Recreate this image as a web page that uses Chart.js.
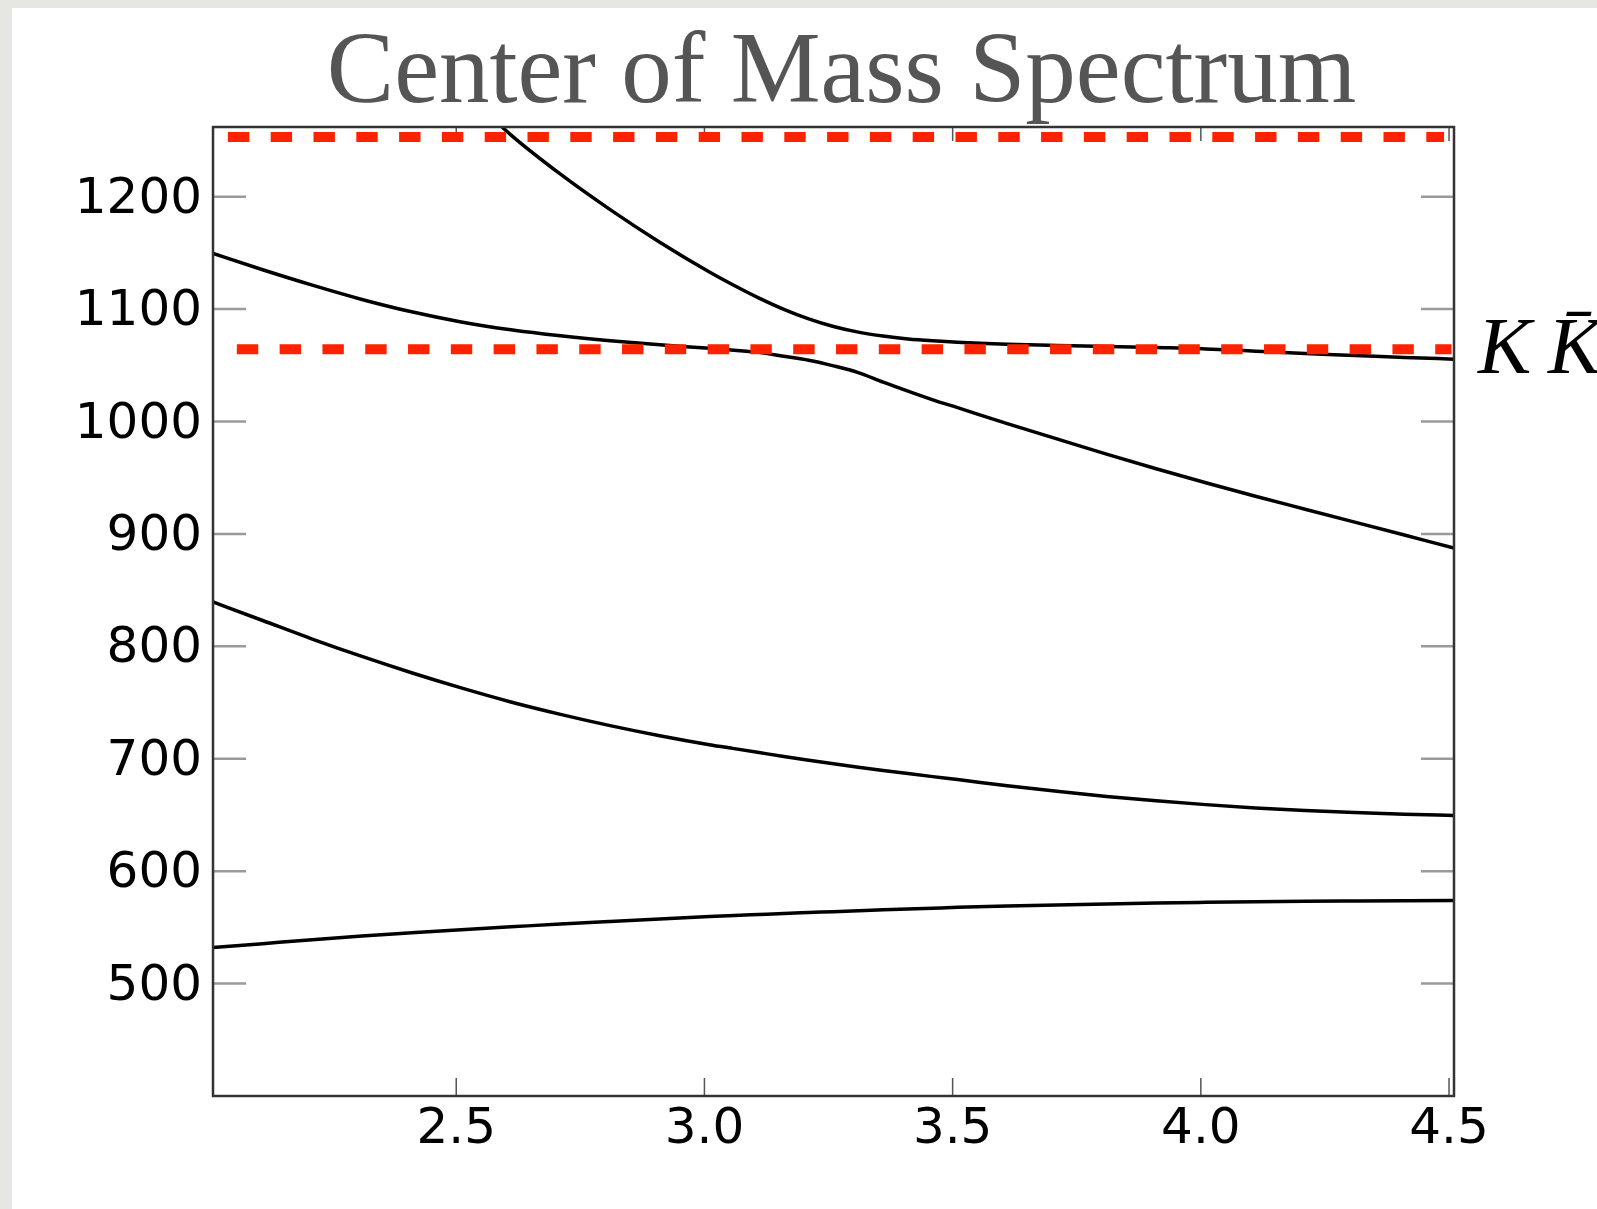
<!DOCTYPE html>
<html>
<head>
<meta charset="utf-8">
<script src="https://cdn.jsdelivr.net/npm/chart.js@4.4.0/dist/chart.umd.min.js"></script>
<style>
  html, body { margin: 0; padding: 0; background: #e6e6e2; overflow: hidden; }
  #panel { position: absolute; left: 12px; top: 8px; right: 0; bottom: 0; background: #fff; }
  #wrap { position: absolute; left: 0; top: 0; width: 1597px; height: 1209px; }
</style>
</head>
<body>
<div id="panel"></div>
<div id="wrap"><canvas id="spectrum" width="1597" height="1209"></canvas></div>
<script>
const titleText = 'Center of Mass Spectrum';

// shared x positions of the sampled curves
const massX = [2.01, 2.11, 2.21, 2.31, 2.41, 2.51, 2.61, 2.71, 2.81, 2.91,
  3.01, 3.06, 3.11, 3.16, 3.21, 3.26, 3.31, 3.36, 3.41, 3.46, 3.51,
  3.61, 3.71, 3.81, 3.91, 4.01, 4.11, 4.21, 4.31, 4.41, 4.51];

const level1 = [532, 535.5, 539, 542.3, 545.2, 548, 550.5, 553, 555.3, 557.5,
  559.6, 560.6, 561.5, 562.4, 563.2, 564, 564.8, 565.6, 566.4, 567.1, 567.8,
  569, 570, 570.9, 571.7, 572.3, 572.8, 573.2, 573.5, 573.8, 574];

const level2 = [839.5, 823, 806.5, 791, 776.5, 763, 750.5, 739.5, 729.5, 720.5,
  712.5, 709, 705.5, 702, 698.7, 695.5, 692.5, 689.6, 686.8, 684.1, 681.5,
  676, 671, 666.5, 662.6, 659.2, 656.3, 654, 652.2, 650.7, 649.5];

const level3 = [1149.5, 1135, 1121.3, 1108.6, 1097.6, 1088.6, 1081.6, 1076.2, 1071.8, 1068.2,
  1065.2, 1063.5, 1061.5, 1058, 1054.5, 1049.5, 1043.5, 1035, 1027, 1019.3, 1012.3,
  998.2, 984.5, 971, 958, 945.5, 933.5, 922, 910.5, 899, 887.5];

const level4 = [null, null, null, null, null, 1297, 1255, 1220, 1188.5, 1159.5,
  1133, 1121, 1109.8, 1099.8, 1091.3, 1084.5, 1079.5, 1076, 1073.5, 1071.8, 1070.5,
  1068.8, 1067.7, 1066.8, 1065.8, 1064.6, 1062.5, 1060.5, 1058.8, 1057, 1055.5];

// red dashed thresholds
const upperX = [2.04, 4.49];
const upperY = [1253, 1253];
const kkX = [2.058, 4.505];
const kkY = [1064.3, 1064.3];
const kkLabel = ['K', 'K\u0304'];

const xTicks = [2.5, 3.0, 3.5, 4.0, 4.5];
const yTicks = [500, 600, 700, 800, 900, 1000, 1100, 1200];

function pairs(xs, ys) {
  return xs.map((x, i) => ({ x: x, y: ys[i] }));
}

function curve(ys) {
  return {
    data: pairs(massX, ys),
    borderColor: '#000',
    borderWidth: 3.5,
    pointRadius: 0,
    cubicInterpolationMode: 'monotone',
    spanGaps: false,
    clip: 0,
    order: 1
  };
}

function dashed(xs, ys) {
  return {
    data: pairs(xs, ys),
    borderColor: 'rgb(255,34,0)',
    borderWidth: 10,
    borderDash: [21.4, 21.4],
    borderCapStyle: 'butt',
    pointRadius: 0,
    order: 0
  };
}

function line(ctx, x1, y1, x2, y2) {
  ctx.beginPath();
  ctx.moveTo(x1, y1);
  ctx.lineTo(x2, y2);
  ctx.stroke();
}

const decorations = {
  id: 'decorations',
  beforeDatasetsDraw(chart) {
    const { ctx, chartArea: a, scales: { x, y } } = chart;
    ctx.save();
    ctx.strokeStyle = '#9a9a9a';
    ctx.lineWidth = 2.5;
    yTicks.forEach(v => {
      const py = y.getPixelForValue(v);
      line(ctx, a.left, py, a.left + 33, py);
      line(ctx, a.right - 33, py, a.right, py);
    });
    ctx.strokeStyle = '#555';
    ctx.lineWidth = 1.5;
    xTicks.forEach(v => {
      const px = x.getPixelForValue(v);
      line(ctx, px, a.bottom, px, a.bottom - 18);
      line(ctx, px, a.top, px, a.top + 14);
    });
    ctx.restore();
  },
  afterDraw(chart) {
    const { ctx, chartArea: a, scales: { y } } = chart;
    ctx.save();
    ctx.strokeStyle = '#333';
    ctx.lineWidth = 2.5;
    ctx.strokeRect(a.left, a.top, a.width, a.height);

    ctx.fillStyle = '#555';
    ctx.font = '101px "Liberation Serif"';
    ctx.textAlign = 'center';
    ctx.textBaseline = 'alphabetic';
    ctx.fillText(titleText, (a.left + a.right) / 2 + 8, 102);

    ctx.fillStyle = '#000';
    ctx.font = 'italic 80px "Liberation Serif"';
    ctx.textAlign = 'left';
    const base = y.getPixelForValue(kkY[0]) + 24;
    ctx.fillText(kkLabel[0], a.right + 24, base);
    ctx.fillText(kkLabel[1], a.right + 94, base);
    ctx.restore();
  }
};

Chart.defaults.font.family = '"DejaVu Sans"';

new Chart(document.getElementById('spectrum'), {
  type: 'line',
  data: {
    datasets: [
      dashed(upperX, upperY),
      dashed(kkX, kkY),
      curve(level1),
      curve(level2),
      curve(level3),
      curve(level4)
    ]
  },
  options: {
    responsive: false,
    animation: false,
    layout: { padding: { left: 0, right: 143, top: 127, bottom: 0 } },
    plugins: { legend: { display: false }, tooltip: { enabled: false }, title: { display: false } },
    scales: {
      x: {
        type: 'linear',
        min: 2.01,
        max: 4.51,
        afterBuildTicks: s => { s.ticks = xTicks.map(v => ({ value: v })); },
        afterFit: s => { s.height = 113; },
        grid: { display: false, drawTicks: false },
        border: { display: false },
        ticks: {
          color: '#000',
          font: { size: 50 },
          padding: 4,
          maxRotation: 0,
          autoSkip: false,
          callback: v => v.toFixed(1)
        }
      },
      y: {
        type: 'linear',
        min: 400,
        max: 1262,
        afterBuildTicks: s => { s.ticks = yTicks.map(v => ({ value: v })); },
        afterFit: s => { s.width = 213; },
        grid: { display: false, drawTicks: false },
        border: { display: false },
        ticks: {
          color: '#000',
          font: { size: 50 },
          padding: 11,
          labelOffset: 3,
          autoSkip: false,
          callback: v => String(v)
        }
      }
    }
  },
  plugins: [decorations]
});
</script>
</body>
</html>
